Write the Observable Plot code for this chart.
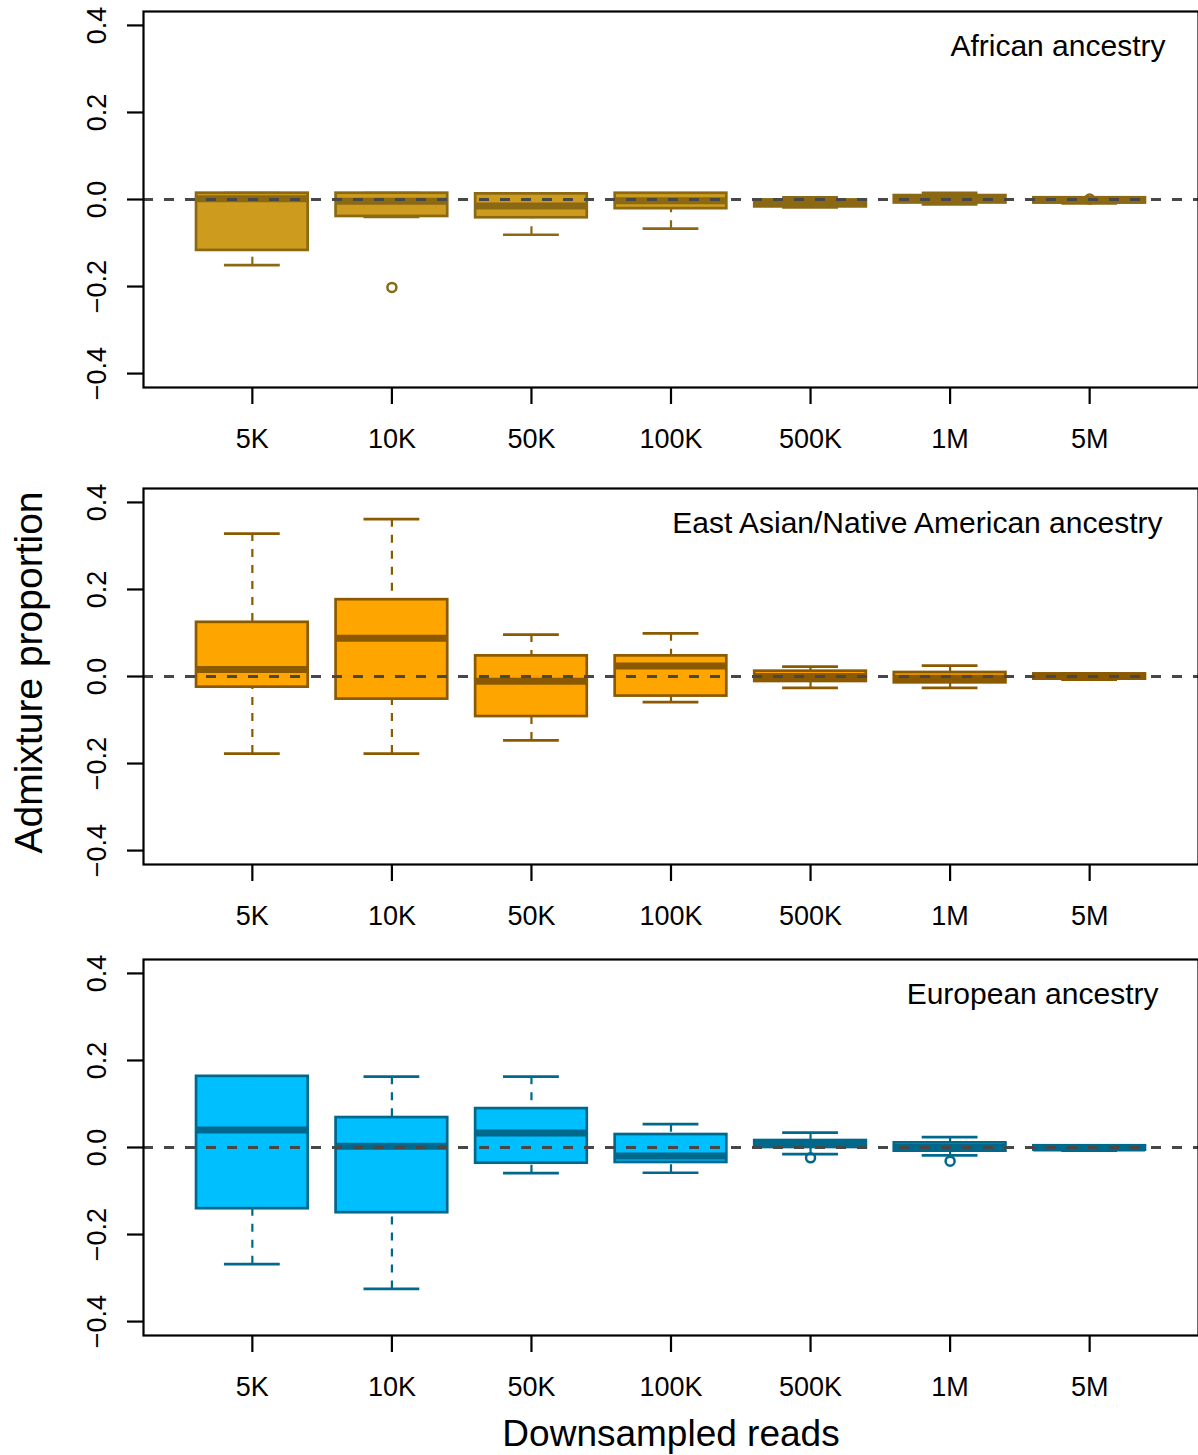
<!DOCTYPE html>
<html>
<head>
<meta charset="utf-8">
<script src="https://cdn.jsdelivr.net/npm/d3@7"></script>
<script src="https://cdn.jsdelivr.net/npm/@observablehq/plot@0.6"></script>
<style>
  html, body { margin: 0; padding: 0; background: #ffffff; }
  #chart { width: 1198px; height: 1455px; overflow: hidden; background: #ffffff;
           font-family: "Liberation Sans", Arial, Helvetica, sans-serif; color: #000; }
  #chart svg { display: block; }
</style>
</head>
<body>
<div id="chart"></div>
<script>
// ---------- data ----------
const categories = ["5K", "10K", "50K", "100K", "500K", "1M", "5M"];
const yTicks = [-0.4, -0.2, 0, 0.2, 0.4];
const yTickLabels = ["\u22120.4", "\u22120.2", "0.0", "0.2", "0.4"];
const yTitle = "Admixture proportion";
const xTitle = "Downsampled reads";

// African ancestry
const afrTitle = "African ancestry";
const afrLow  = [-0.151, -0.040, -0.081, -0.067, -0.018, -0.011, -0.009];
const afrQ1   = [-0.117, -0.039, -0.042, -0.021, -0.017, -0.008, -0.008];
const afrMed  = [0.002, -0.004, -0.015, -0.003, -0.009, 0.001, -0.002];
const afrQ3   = [0.0145, 0.0145, 0.013, 0.0144, -0.001, 0.009, 0.004];
const afrHigh = [0.0145, 0.0145, 0.013, 0.0144, 0.005, 0.015, 0.005];
const afrOutCat = ["10K", "5M"];
const afrOutVal = [-0.202, 0.001];

// East Asian/Native American ancestry
const easTitle = "East Asian/Native American ancestry";
const easLow  = [-0.177, -0.177, -0.147, -0.059, -0.026, -0.026, -0.007];
const easQ1   = [-0.0245, -0.052, -0.092, -0.045, -0.0115, -0.0145, -0.006];
const easMed  = [0.016, 0.088, -0.011, 0.024, 0.0, -0.004, 0.0];
const easQ3   = [0.1245, 0.1765, 0.0474, 0.0474, 0.0122, 0.0092, 0.006];
const easHigh = [0.3285, 0.3614, 0.0963, 0.0993, 0.0229, 0.0252, 0.007];
const easOutCat = [];
const easOutVal = [];

// European ancestry
const eurTitle = "European ancestry";
const eurLow  = [-0.268, -0.325, -0.059, -0.058, -0.0153, -0.0183, -0.007];
const eurQ1   = [-0.1406, -0.1498, -0.036, -0.0344, 0.0, -0.0084, -0.006];
const eurMed  = [0.040, 0.0027, 0.0332, -0.0195, 0.008, 0.0, -0.001];
const eurQ3   = [0.1635, 0.0688, 0.0894, 0.0298, 0.016, 0.0107, 0.004];
const eurHigh = [0.1635, 0.1627, 0.1627, 0.0535, 0.0344, 0.0237, 0.005];
const eurOutCat = ["500K", "1M"];
const eurOutVal = [-0.0237, -0.0314];

// ---------- drawing ----------
const FONT = "'Liberation Sans', Arial, Helvetica, sans-serif";
const PLOT_H = 376;

function buildRows(low, q1, med, q3, high) {
  return categories.map((cat, i) => ({cat, pos: i + 1, low: low[i], q1: q1[i], med: med[i], q3: q3[i], high: high[i]}));
}
function buildOutliers(cats, vals) {
  return cats.map((c, j) => ({cat: c, pos: categories.indexOf(c) + 1, value: vals[j]}));
}

function panel({rows, outliers, fill, stroke, title, titleDx, height, extra = []}) {
  const bw = 0.4, sw = 0.2;
  return Plot.plot({
    width: 1198,
    height,
    marginLeft: 143,
    marginRight: 0,
    marginTop: 11,
    marginBottom: height - 11 - PLOT_H,
    style: {fontFamily: FONT, background: "#ffffff", color: "#000", overflow: "visible"},
    x: {type: "linear", domain: [0.22, 7.78]},
    y: {type: "linear", domain: [-0.432, 0.432]},
    marks: [
      // whiskers (dashed), drawn from the extremes towards the box
      Plot.ruleX(rows, {x: "pos", y1: "low", y2: "q1", stroke, strokeWidth: 2.2, strokeDasharray: "8,8"}),
      Plot.ruleX(rows, {x: "pos", y1: "high", y2: "q3", stroke, strokeWidth: 2.2, strokeDasharray: "8,8"}),
      // staples
      Plot.ruleY(rows, {y: "low", x1: d => d.pos - sw, x2: d => d.pos + sw, stroke, strokeWidth: 2.7}),
      Plot.ruleY(rows, {y: "high", x1: d => d.pos - sw, x2: d => d.pos + sw, stroke, strokeWidth: 2.7}),
      // box fill
      Plot.rect(rows, {x1: d => d.pos - bw, x2: d => d.pos + bw, y1: "q1", y2: "q3", fill}),
      // median
      Plot.ruleY(rows, {y: "med", x1: d => d.pos - bw, x2: d => d.pos + bw, stroke, strokeWidth: 7}),
      // box border
      Plot.rect(rows, {x1: d => d.pos - bw, x2: d => d.pos + bw, y1: "q1", y2: "q3", fill: "none", stroke, strokeWidth: 2.7}),
      // outliers
      Plot.dot(outliers, {x: "pos", y: "value", r: 4.5, fill: "none", stroke, strokeWidth: 2.5}),
      // reference line at zero
      Plot.ruleY([0], {stroke: "#474747", strokeWidth: 3, strokeDasharray: "10,11"}),
      Plot.frame({stroke: "#000", strokeWidth: 2.2}),
      Plot.axisX({
        ticks: rows.map(d => d.pos),
        tickFormat: d => categories[Math.round(d) - 1],
        tickSize: 17, tickPadding: 24, fontSize: 27, strokeWidth: 2.2, label: null
      }),
      Plot.axisY({
        ticks: yTicks,
        tickFormat: d => yTickLabels[yTicks.indexOf(d)],
        tickSize: 16, tickPadding: 22, tickRotate: -90, fontSize: 27, strokeWidth: 2.2, label: null
      }),
      Plot.text([title], {text: d => d, frameAnchor: "top-right", dx: titleDx, dy: 35,
        textAnchor: "end", lineAnchor: "middle", fontSize: 30, fill: "#000"}),
      ...extra
    ]
  });
}

const chart = document.getElementById("chart");

chart.append(panel({
  rows: buildRows(afrLow, afrQ1, afrMed, afrQ3, afrHigh),
  outliers: buildOutliers(afrOutCat, afrOutVal),
  fill: "#CD9B1D", stroke: "#8B6914",
  title: afrTitle, titleDx: -33, height: 477
}));

chart.append(panel({
  rows: buildRows(easLow, easQ1, easMed, easQ3, easHigh),
  outliers: buildOutliers(easOutCat, easOutVal),
  fill: "#FFA500", stroke: "#8B5A00",
  title: easTitle, titleDx: -36, height: 471,
  extra: [
    Plot.text([yTitle], {text: d => d, frameAnchor: "left", rotate: -90, dx: -114, dy: -4,
      textAnchor: "middle", lineAnchor: "middle", fontSize: 39, fill: "#000"})
  ]
}));

chart.append(panel({
  rows: buildRows(eurLow, eurQ1, eurMed, eurQ3, eurHigh),
  outliers: buildOutliers(eurOutCat, eurOutVal),
  fill: "#00BFFF", stroke: "#00688B",
  title: eurTitle, titleDx: -40, height: 507,
  extra: [
    Plot.text([xTitle], {text: d => d, frameAnchor: "bottom", dy: 99,
      textAnchor: "middle", lineAnchor: "middle", fontSize: 37, fill: "#000"})
  ]
}));
</script>
</body>
</html>
